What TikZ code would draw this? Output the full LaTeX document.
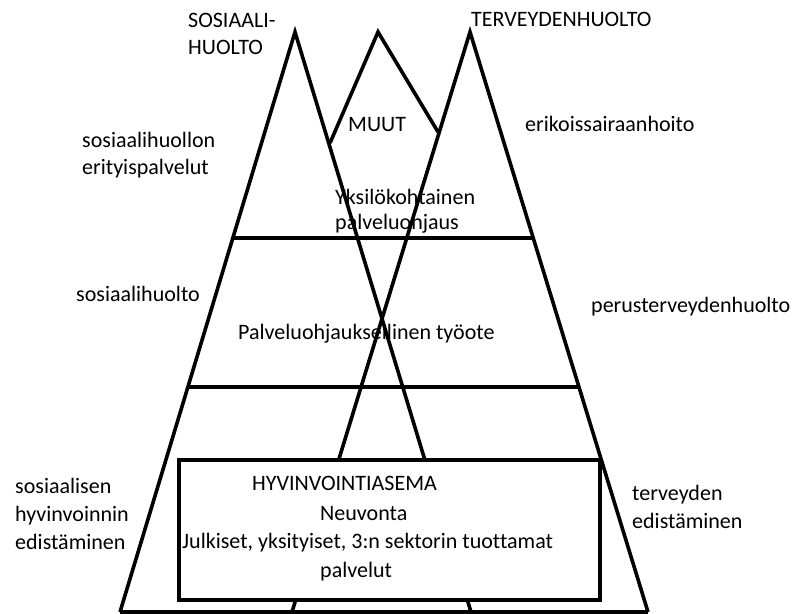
\documentclass[tikz,border=0pt]{standalone}
\usepackage{fontspec}
\newfontfamily\lblfont{Carlito}[Ligatures={NoCommon}]
\begin{document}
\begin{tikzpicture}[x=1bp,y=-1bp,
  edge/.style={line width=3.6bp, line join=miter, line cap=butt},
  lbl/.style={inner sep=0pt, anchor=base west, font=\fontsize{22.1}{28}\lblfont}]
\useasboundingbox (0,0) rectangle (792,614);
% apexes and feet
\coordinate (sApex) at (295,32);
\coordinate (sLeft) at (120,612);
\coordinate (sRight) at (471,612);
\coordinate (tApex) at (470,32);
\coordinate (tLeft) at (292,612);
\coordinate (tRight) at (648,612);
\coordinate (mApex) at (378,32);
\coordinate (mLeft) at (330,143);
\coordinate (mRight) at (438,132);
\coordinate (l1a) at (233,238);
\coordinate (l1b) at (533,238);
\coordinate (l2a) at (188,387);
\coordinate (l2b) at (578,387);
% triangles
\draw[edge] (sLeft) -- (sApex) -- (sRight);
\draw[edge] (tLeft) -- (tApex) -- (tRight);
\draw[edge] (mLeft) -- (mApex) -- (mRight);
\draw[edge] (sLeft) -- (tRight);
\draw[edge] (l1a) -- (l1b);
\draw[edge] (l2a) -- (l2b);
% station box
\node (station) [draw, line width=3.6bp, fill=white, anchor=north west,
  minimum width=421bp, minimum height=140bp, inner sep=0pt] at (177,458) {};
% labels
\node (sos1) [lbl] at (188,28) {SOSIAALI-};
\node (sos2) [lbl] at (188,55) {HUOLTO};
\node (terv) [lbl] at (471,27) {TERVEYDENHUOLTO};
\node (muut) [lbl] at (348,132) {MUUT};
\node (eri1) [lbl] at (82,148) {sosiaalihuollon};
\node (eri2) [lbl] at (82,175) {erityispalvelut};
\node (erik) [lbl] at (525,132) {erikoissairaanhoito};
\node (yks1) [lbl] at (335,205) {Yksilökohtainen};
\node (yks2) [lbl] at (335,230) {palveluohjaus};
\node (soshu) [lbl] at (76,301) {sosiaalihuolto};
\node (palv) [lbl] at (238,339) {Palveluohjauksellinen työote};
\node (perus) [lbl] at (591,312) {perusterveydenhuolto};
\node (hyv1) [lbl] at (15,493) {sosiaalisen};
\node (hyv2) [lbl] at (15,521) {hyvinvoinnin};
\node (hyv3) [lbl] at (15,549) {edistäminen};
\node (ted1) [lbl] at (632,500) {terveyden};
\node (ted2) [lbl] at (632,528) {edistäminen};
\node (st1) [lbl] at (252,490) {HYVINVOINTIASEMA};
\node (st2) [lbl] at (320,520) {Neuvonta};
\node (st3) [lbl] at (182,548) {Julkiset, yksityiset, 3:n sektorin tuottamat};
\node (st4) [lbl] at (320,577) {palvelut};
\end{tikzpicture}
\end{document}
